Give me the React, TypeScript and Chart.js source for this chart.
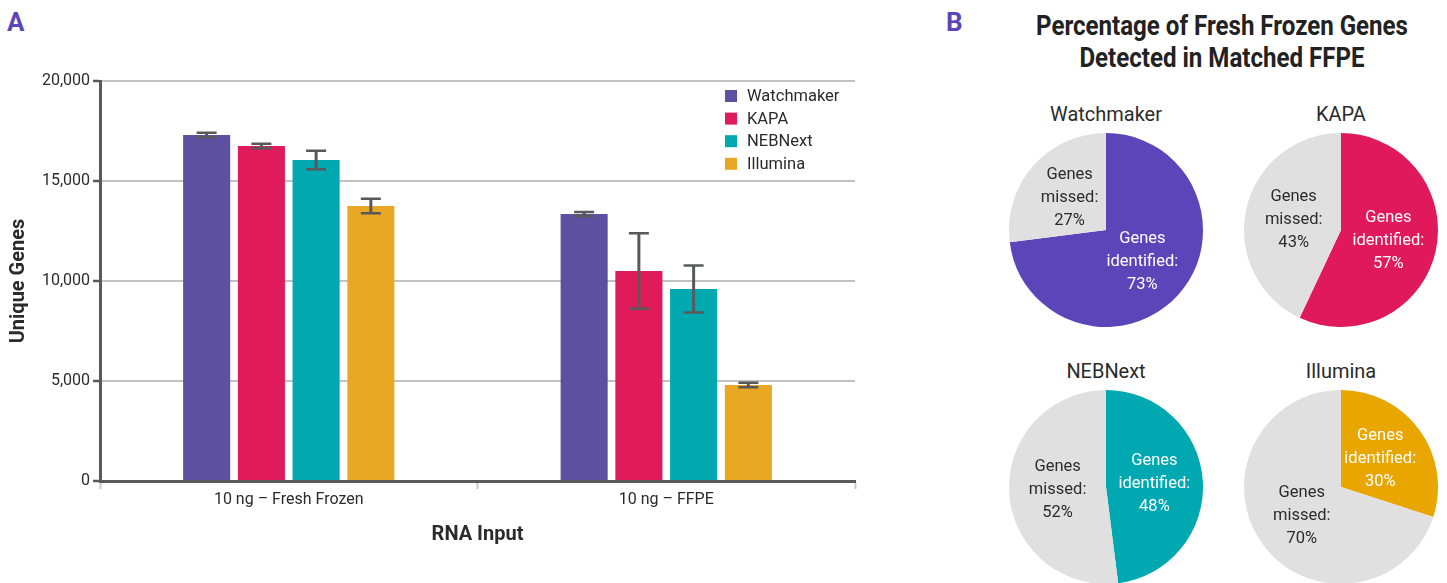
import React, { useEffect, useRef } from 'react';
import { Chart, registerables } from 'chart.js';

Chart.register(...registerables);

// ---- Data ----
const categories = ['10 ng – Fresh Frozen', '10 ng – FFPE'];
const seriesNames = ['Watchmaker', 'KAPA', 'NEBNext', 'Illumina'];
const watchmakerGenes = [17300, 13350];
const kapaGenes = [16750, 10500];
const nebnextGenes = [16050, 9600];
const illuminaGenes = [13750, 4800];
const watchmakerErr = [108, 100];
const kapaErr = [110, 1890];
const nebnextErr = [457, 1170];
const illuminaErr = [357, 107];
const yMax = 20000;
const yStep = 5000;

const pieNames = ['Watchmaker', 'KAPA', 'NEBNext', 'Illumina'];
const identifiedPct = [73, 57, 48, 30];
const missedPct = [27, 43, 52, 70];

// ---- Styles ----
const barColors = ['#5e50a0', '#df1b5b', '#00a8b0', '#e9a823'];
const pieColors = ['#5c45b8', '#e0185c', '#00a8b1', '#e9a600'];
const missedColor = '#e0e0e0';
const axisDark = '#58595b';
const textColor = '#2b2b2b';
const FONT = 'Roboto, "Noto Sans", sans-serif';

function BarChart() {
  const ref = useRef<HTMLCanvasElement>(null);
  useEffect(() => {
    if (!ref.current) return;
    const values = [watchmakerGenes, kapaGenes, nebnextGenes, illuminaGenes];
    const errs = [watchmakerErr, kapaErr, nebnextErr, illuminaErr];

    const errorBars = {
      id: 'errorBars',
      afterDatasetsDraw(chart: any) {
        const ctx = chart.ctx;
        const ys = chart.scales.y;
        ctx.save();
        ctx.strokeStyle = axisDark;
        chart.data.datasets.forEach((ds: any, i: number) => {
          const meta = chart.getDatasetMeta(i);
          meta.data.forEach((bar: any, j: number) => {
            const v = ds.data[j];
            const e = errs[i][j];
            const yt = ys.getPixelForValue(v + e);
            const yb = ys.getPixelForValue(v - e);
            const x = bar.x;
            ctx.lineWidth = 3;
            ctx.beginPath();
            ctx.moveTo(x, yt);
            ctx.lineTo(x, yb);
            ctx.stroke();
            ctx.lineWidth = 2.5;
            ctx.beginPath();
            ctx.moveTo(x - 10, yt);
            ctx.lineTo(x + 10, yt);
            ctx.moveTo(x - 10, yb);
            ctx.lineTo(x + 10, yb);
            ctx.stroke();
          });
        });
        ctx.restore();
      },
    };

    const vLegend = {
      id: 'vLegend',
      afterDraw(chart: any) {
        const ctx = chart.ctx;
        const area = chart.chartArea;
        ctx.save();
        ctx.font = `16.5px ${FONT}`;
        ctx.textBaseline = 'middle';
        ctx.textAlign = 'left';
        chart.data.datasets.forEach((ds: any, i: number) => {
          const cy = area.top + 15 + i * 22.6;
          const bx = area.right - 130;
          ctx.fillStyle = ds.backgroundColor;
          ctx.fillRect(bx, cy - 6, 12, 12);
          ctx.fillStyle = textColor;
          ctx.fillText(ds.label, bx + 22, cy + 1);
        });
        ctx.restore();
      },
    };

    const chart = new Chart(ref.current, {
      type: 'bar',
      data: {
        labels: categories,
        datasets: seriesNames.map((name, i) => ({
          label: name,
          data: values[i],
          backgroundColor: barColors[i],
          borderWidth: 0,
          categoryPercentage: 0.58,
          barPercentage: 0.86,
        })),
      },
      options: {
        animation: false,
        responsive: false,
        layout: { padding: { top: 81, right: 25, left: 0, bottom: 0 } },
        plugins: {
          legend: { display: false },
          tooltip: { enabled: false },
        },
        scales: {
          x: {
            afterFit(scale: any) {
              scale.height = 583 - 481;
            },
            grid: {
              drawOnChartArea: false,
              drawTicks: true,
              tickLength: 8,
              tickColor: '#c8c8c8',
              tickWidth: 2,
            },
            border: { color: axisDark, width: 3 },
            ticks: {
              color: textColor,
              font: { family: FONT, size: 16 },
              padding: 1,
            },
            title: {
              display: true,
              text: 'RNA Input',
              color: textColor,
              font: { family: FONT, size: 20, weight: 'bold' },
              padding: { top: 0, bottom: 36 },
            },
          },
          y: {
            min: 0,
            max: yMax,
            afterFit(scale: any) {
              scale.width = 100;
            },
            ticks: {
              stepSize: yStep,
              color: textColor,
              font: { family: FONT, size: 16 },
              padding: 3,
            },
            grid: {
              color: '#c2c2c2',
              lineWidth: 2,
              drawTicks: true,
              tickLength: 7,
              tickColor: axisDark,
              tickWidth: 2.5,
            },
            border: { color: axisDark, width: 3 },
            title: {
              display: true,
              text: 'Unique Genes',
              color: textColor,
              font: { family: FONT, size: 20, weight: 'bold' },
              padding: { top: 7, bottom: 0 },
            },
          },
        },
      } as any,
      plugins: [errorBars, vLegend],
    });
    return () => chart.destroy();
  }, []);
  return (
    <canvas
      ref={ref}
      width={880}
      height={583}
      style={{ position: 'absolute', left: 0, top: 0, width: 880, height: 583 }}
    />
  );
}

function PieChart(props: { idx: number; left: number; top: number; size: number }) {
  const ref = useRef<HTMLCanvasElement>(null);
  const { idx, left, top, size } = props;
  useEffect(() => {
    if (!ref.current) return;
    const sliceLabels = [
      ['Genes', 'identified:', `${identifiedPct[idx]}%`],
      ['Genes', 'missed:', `${missedPct[idx]}%`],
    ];
    const sliceTextColors = ['#ffffff', textColor];
    const labelPlugin = {
      id: 'sliceLabels',
      afterDatasetsDraw(chart: any) {
        const ctx = chart.ctx;
        const meta = chart.getDatasetMeta(0);
        ctx.save();
        ctx.font = `16.5px ${FONT}`;
        ctx.textAlign = 'center';
        ctx.textBaseline = 'middle';
        meta.data.forEach((arc: any, i: number) => {
          const mid = (arc.startAngle + arc.endAngle) / 2;
          const r = arc.outerRadius * 0.5;
          const cx = arc.x + Math.cos(mid) * r;
          const cy = arc.y + Math.sin(mid) * r;
          ctx.fillStyle = sliceTextColors[i];
          sliceLabels[i].forEach((line, k) => {
            ctx.fillText(line, cx, cy + (k - 1) * 23);
          });
        });
        ctx.restore();
      },
    };
    const chart = new Chart(ref.current, {
      type: 'pie',
      data: {
        labels: ['Genes identified', 'Genes missed'],
        datasets: [
          {
            data: [identifiedPct[idx], missedPct[idx]],
            backgroundColor: [pieColors[idx], missedColor],
            borderWidth: 0,
          },
        ],
      },
      options: {
        animation: false,
        responsive: false,
        layout: { padding: 0 },
        plugins: { legend: { display: false }, tooltip: { enabled: false } },
      } as any,
      plugins: [labelPlugin],
    });
    return () => chart.destroy();
  }, [idx]);
  return (
    <>
      <div
        style={{
          position: 'absolute',
          left: left - 40,
          width: size + 80,
          top: top - 31,
          textAlign: 'center',
          fontFamily: FONT,
          fontSize: 21,
          lineHeight: '24px',
          color: textColor,
          transform: 'scaleX(0.95)',
        }}
      >
        {pieNames[idx]}
      </div>
      <canvas
        ref={ref}
        width={size}
        height={size}
        style={{ position: 'absolute', left, top, width: size, height: size }}
      />
    </>
  );
}

export default function App() {
  const pieSize = 194;
  return (
    <div
      style={{
        position: 'fixed',
        left: 0,
        top: 0,
        width: 1447,
        height: 583,
        overflow: 'hidden',
        background: '#ffffff',
        fontFamily: FONT,
      }}
    >
      <div
        style={{
          position: 'absolute',
          left: 7,
          top: 7,
          fontSize: 26,
          fontWeight: 'bold',
          color: '#5b45b8',
          lineHeight: '30px',
        }}
      >
        A
      </div>
      <div
        style={{
          position: 'absolute',
          left: 946,
          top: 7,
          fontSize: 26,
          fontWeight: 'bold',
          color: '#5b45b8',
          lineHeight: '30px',
        }}
      >
        B
      </div>
      <BarChart />
      <div
        style={{
          position: 'absolute',
          left: 972,
          width: 500,
          top: 10,
          textAlign: 'center',
          fontSize: 28,
          fontWeight: 'bold',
          lineHeight: '32px',
          color: '#222222',
          transform: 'scaleX(0.86)',
          transformOrigin: '250px 0px',
        }}
      >
        Percentage of Fresh Frozen Genes
        <br />
        Detected in Matched FFPE
      </div>
      <PieChart idx={0} left={1009} top={133} size={pieSize} />
      <PieChart idx={1} left={1244} top={133} size={pieSize} />
      <PieChart idx={2} left={1009} top={390} size={pieSize} />
      <PieChart idx={3} left={1244} top={390} size={pieSize} />
    </div>
  );
}
